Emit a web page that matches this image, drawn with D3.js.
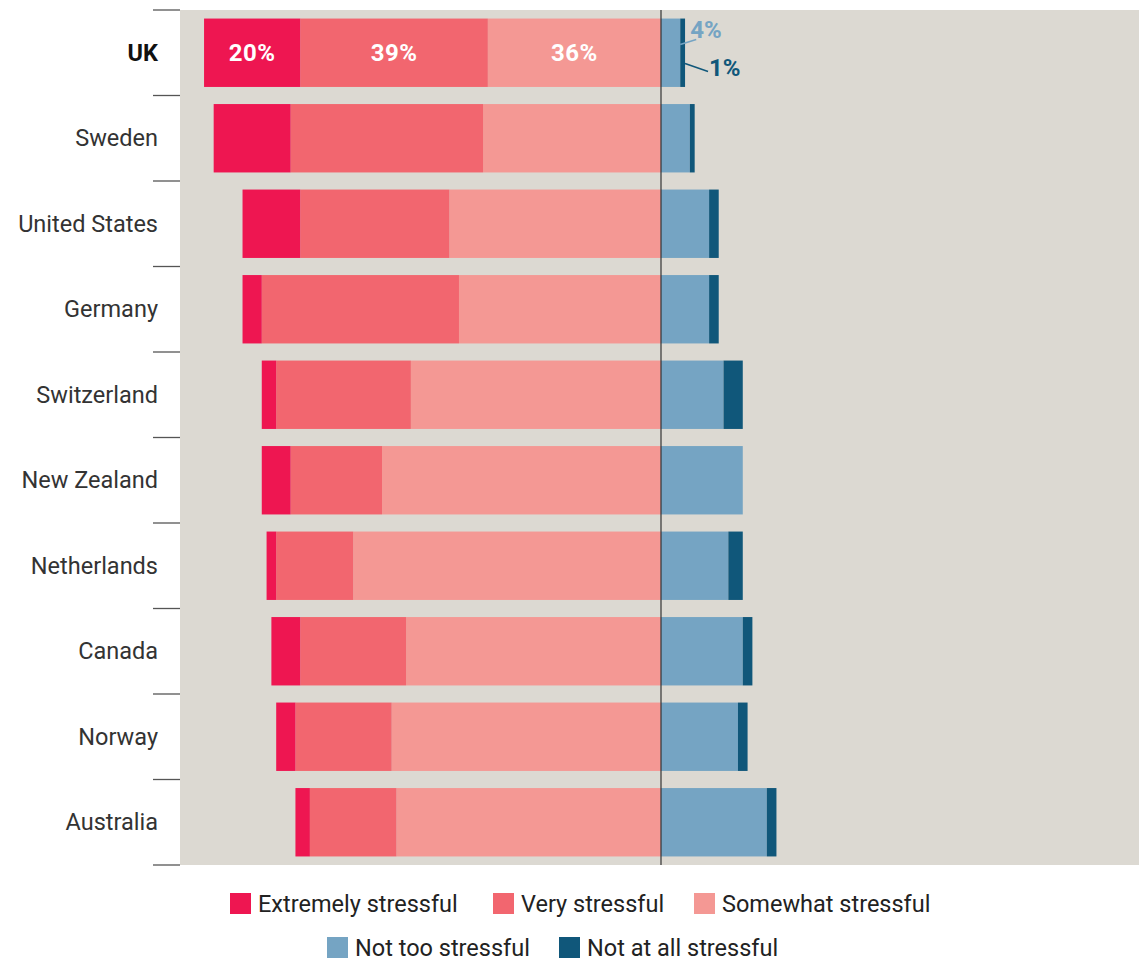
<!DOCTYPE html>
<html>
<head>
<meta charset="utf-8">
<script src="https://cdn.jsdelivr.net/npm/d3@7"></script>
<style>
  html, body { margin: 0; padding: 0; background: #ffffff; }
  svg { display: block; font-family: Roboto, "Liberation Sans", Arial, sans-serif; }
</style>
</head>
<body>
<svg id="chart" width="1139" height="962"></svg>
<script>
// Share of respondents (%) by how stressful they find the topic
const countries = ["UK", "Sweden", "United States", "Germany", "Switzerland",
                   "New Zealand", "Netherlands", "Canada", "Norway", "Australia"];
const extremely = [20, 16, 12, 4, 3, 6, 2, 6, 4, 3];
const very      = [39, 40, 31, 41, 28, 19, 16, 22, 20, 18];
const somewhat  = [36, 37, 44, 42, 52, 58, 64, 53, 56, 55];
const notToo    = [4, 6, 10, 10, 13, 17, 14, 17, 16, 22];
const notAtAll  = [1, 1, 2, 2, 4, 0, 3, 2, 2, 2];

const categories = ["Extremely stressful", "Very stressful", "Somewhat stressful",
                    "Not too stressful", "Not at all stressful"];
const colors = ["#ee1651", "#f2666f", "#f49894", "#75a4c3", "#10577a"];

const svg = d3.select("#chart");
const plot = { left: 180, right: 1142, top: 10, bottom: 865 };
const fontSize = 23.5;

const x = d3.scaleLinear().domain([-100, 100]).range([plot.left, plot.right]);
const y = d3.scaleBand().domain(countries)
  .range([plot.top, plot.bottom]).paddingInner(0.2).paddingOuter(0.1);

// plot background
svg.append("rect")
  .attr("x", plot.left).attr("y", plot.top)
  .attr("width", 1139 - plot.left).attr("height", plot.bottom - plot.top)
  .attr("fill", "#dcd9d2");

// Build diverging segments: stressful to the left of zero, not stressful to the right
const segments = [];
countries.forEach((c, i) => {
  let neg = 0;
  [[2, somewhat[i]], [1, very[i]], [0, extremely[i]]].forEach(([k, v]) => {
    segments.push({ country: c, k, v, x0: -(neg + v), x1: -neg });
    neg += v;
  });
  let pos = 0;
  [[3, notToo[i]], [4, notAtAll[i]]].forEach(([k, v]) => {
    segments.push({ country: c, k, v, x0: pos, x1: pos + v });
    pos += v;
  });
});

svg.append("g").selectAll("rect")
  .data(segments.filter(d => d.v > 0))
  .join("rect")
  .attr("x", d => x(d.x0))
  .attr("y", d => y(d.country))
  .attr("width", d => x(d.x1) - x(d.x0))
  .attr("height", y.bandwidth())
  .attr("fill", d => colors[d.k]);

// zero line
svg.append("line")
  .attr("x1", x(0)).attr("x2", x(0))
  .attr("y1", plot.top).attr("y2", plot.bottom)
  .attr("stroke", "#333").attr("stroke-width", 1.2);

// category separators on the left
const step = y.step();
const bounds = d3.range(countries.length + 1).map(i => plot.top + i * step);
svg.append("g").selectAll("line")
  .data(bounds)
  .join("line")
  .attr("x1", 153).attr("x2", plot.left)
  .attr("y1", d => d).attr("y2", d => d)
  .attr("stroke", "#555").attr("stroke-width", 1.3);

// country labels
svg.append("g").selectAll("text")
  .data(countries)
  .join("text")
  .attr("x", 158)
  .attr("y", d => y(d) + y.bandwidth() / 2)
  .attr("dy", "0.35em")
  .attr("text-anchor", "end")
  .attr("font-size", fontSize)
  .attr("font-weight", d => d === "UK" ? 700 : 400)
  .attr("fill", d => d === "UK" ? "#111" : "#333")
  .text(d => d);

// value labels for the UK stressful segments
const ukY = y("UK") + y.bandwidth() / 2;
svg.append("g").selectAll("text")
  .data(segments.filter(d => d.country === "UK" && d.k <= 2))
  .join("text")
  .attr("x", d => (x(d.x0) + x(d.x1)) / 2)
  .attr("y", ukY)
  .attr("dy", "0.35em")
  .attr("text-anchor", "middle")
  .attr("font-size", 24)
  .attr("font-weight", 700)
  .attr("letter-spacing", 0.5)
  .attr("fill", "#ffffff")
  .text(d => d.v + "%");

// callouts for the UK not-stressful segments
const ukNotToo = segments.find(d => d.country === "UK" && d.k === 3);
const ukNotAll = segments.find(d => d.country === "UK" && d.k === 4);
const callouts = [
  { seg: ukNotToo, color: colors[3], ax: x(ukNotToo.x1), ay: y("UK") + 26, bx: x(ukNotToo.x1) + 16, by: y("UK") + 21,
    tx: x(ukNotToo.x1) + 10, ty: y("UK") + 11 },
  { seg: ukNotAll, color: colors[4], ax: x(ukNotAll.x1), ay: y("UK") + 45, bx: x(ukNotAll.x1) + 23, by: y("UK") + 53,
    tx: x(ukNotAll.x1) + 24, ty: y("UK") + 49 }
];
callouts.forEach(c => {
  svg.append("line")
    .attr("x1", c.ax).attr("y1", c.ay).attr("x2", c.bx).attr("y2", c.by)
    .attr("stroke", c.color).attr("stroke-width", 1.5);
  svg.append("text")
    .attr("x", c.tx).attr("y", c.ty)
    .attr("dy", "0.35em")
    .attr("font-size", 24).attr("font-weight", 700)
    .attr("fill", c.color)
    .text(c.seg.v + "%");
});

// legend
const legendRows = [
  [{ k: 0, x: 230 }, { k: 1, x: 493 }, { k: 2, x: 694 }],
  [{ k: 3, x: 327 }, { k: 4, x: 559 }]
];
const legendY = [893, 937];
legendRows.forEach((row, r) => {
  const g = svg.append("g");
  g.selectAll("rect").data(row).join("rect")
    .attr("x", d => d.x).attr("y", legendY[r])
    .attr("width", 21).attr("height", 21)
    .attr("fill", d => colors[d.k]);
  g.selectAll("text").data(row).join("text")
    .attr("x", d => d.x + 28).attr("y", legendY[r] + 10.5)
    .attr("dy", "0.35em")
    .attr("font-size", fontSize)
    .attr("fill", "#222")
    .text(d => categories[d.k]);
});
</script>
</body>
</html>
